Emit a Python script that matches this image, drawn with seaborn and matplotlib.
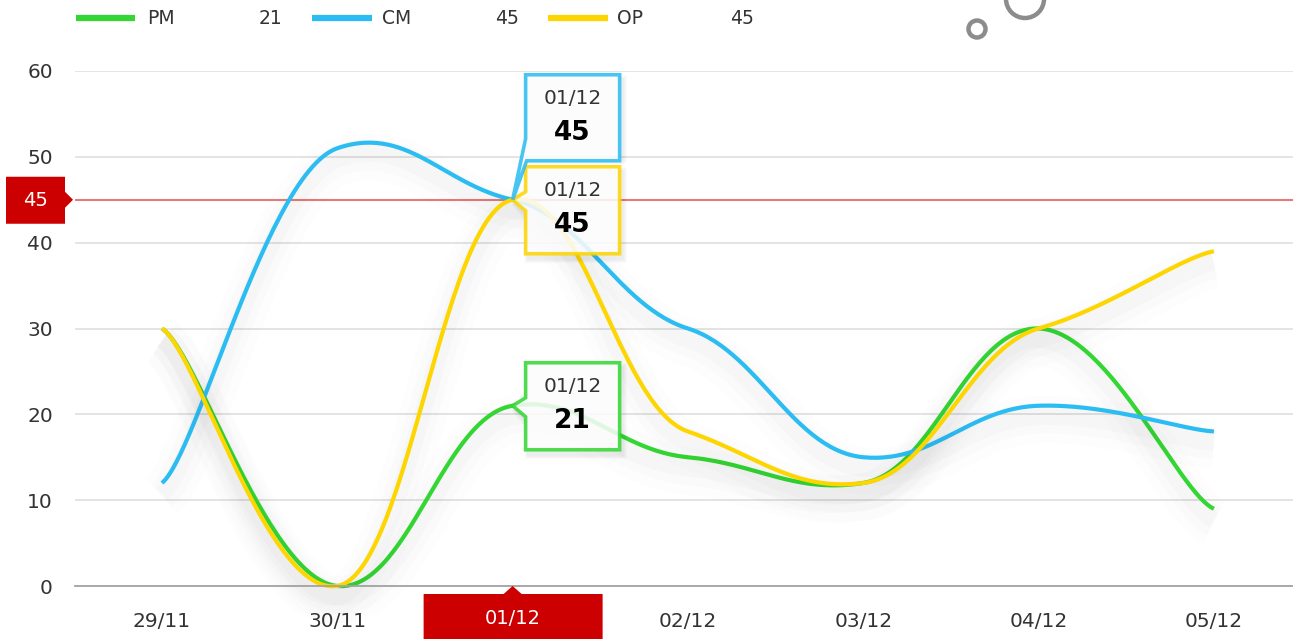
import numpy as np
import pandas as pd
import matplotlib
matplotlib.use("Agg")
import matplotlib.pyplot as plt
import matplotlib.patheffects as pe
from matplotlib.patches import Polygon, Circle
import seaborn as sns

# ── Data ────────────────────────────────────────────────
DATES = ["29/11", "30/11", "01/12", "02/12", "03/12", "04/12", "05/12"]
PM = [30, 0, 21, 15, 12, 30, 9]
CM = [12, 51, 45, 30, 15, 21, 18]
OP = [30, 0, 45, 18, 12, 30, 39]
SERIES = {"PM": PM, "CM": CM, "OP": OP}
COLORS = {"PM": "#33d633", "CM": "#2bbcf2", "OP": "#fdd500"}
SELECTED = 2            # index of 01/12
LIMIT = 45              # red reference line

W, H = 1293, 639
RED = "#cc0000"
TX, TY = 0.2, 0.085     # smoothing (x / y tension of the bezier)


def smooth(ys, n=60):
    """Tension bezier through the points (x = category index)."""
    pts = np.array([[i, v] for i, v in enumerate(ys)], dtype=float)
    k = np.array([TX, TY])
    t = np.linspace(0, 1, n)[:, None]
    out = []
    for i in range(len(pts) - 1):
        p0 = pts[max(i - 1, 0)]
        p1, p2 = pts[i], pts[i + 1]
        p3 = pts[min(i + 2, len(pts) - 1)]
        c1 = p1 + (p2 - p0) * k
        c2 = p2 - (p3 - p1) * k
        seg = ((1 - t) ** 3) * p1 + 3 * ((1 - t) ** 2) * t * c1 \
            + 3 * (1 - t) * t ** 2 * c2 + t ** 3 * p2
        out.append(seg if i == 0 else seg[1:])
    out = np.vstack(out)
    return out[:, 0], out[:, 1]


frames = []
for name, vals in SERIES.items():
    x, y = smooth(vals)
    frames.append(pd.DataFrame({"x": x, "y": y, "series": name}))
df = pd.concat(frames, ignore_index=True)

sns.set_theme(style="white")
plt.rcParams["font.family"] = ["DejaVu Sans"]

fig = plt.figure(figsize=(W / 100, H / 100), dpi=100)
fig.patch.set_facecolor("white")
ax = fig.add_axes([75 / W, (H - 586) / H, (W - 75) / W, (586 - 71) / H])
ax.set_facecolor("white")

sns.lineplot(data=df, x="x", y="y", hue="series", palette=COLORS,
             hue_order=["PM", "CM", "OP"], linewidth=3, legend=False,
             ax=ax, sort=False, estimator=None)
for ln in ax.lines:
    ln.set_clip_on(False)
    ln.set_solid_capstyle("butt")
    ln.set_path_effects([
        pe.SimpleLineShadow(offset=(0, -10), shadow_color="#000000", alpha=0.008, linewidth=34),
        pe.SimpleLineShadow(offset=(0, -9), shadow_color="#000000", alpha=0.011, linewidth=22),
        pe.SimpleLineShadow(offset=(0, -8), shadow_color="#000000", alpha=0.014, linewidth=12),
        pe.Normal()])

ax.set_xlim(-0.496, 6.451)
ax.set_ylim(0, 60)
ax.set_yticks(range(0, 61, 10))
ax.set_xticks(range(len(DATES)))
ax.set_xticklabels([d if i != SELECTED else "" for i, d in enumerate(DATES)])
ax.grid(axis="y", color="#dfdfdf", lw=1.2)
ax.grid(axis="x", visible=False)
for s in ["top", "right", "left"]:
    ax.spines[s].set_visible(False)
ax.spines["bottom"].set_color("#a3a3a3")
ax.spines["bottom"].set_linewidth(1.3)
ax.tick_params(axis="y", length=0, pad=16, labelsize=14.5, labelcolor="#333333")
ax.tick_params(axis="x", length=0, pad=19, labelsize=14.5, labelcolor="#333333")
ax.set_xlabel("")
ax.set_ylabel("")
ax.axhline(LIMIT, color="#e77b7b", lw=1.5, zorder=1.5)

# ── overlay in pixel coordinates ─────────────────────────
ov = fig.add_axes([0, 0, 1, 1], facecolor="none")
ov.set_xlim(0, W)
ov.set_ylim(H, 0)
ov.axis("off")


def to_px(x, y):
    dx, dy = ax.transData.transform((x, y))
    return dx, H - dy


# legend
lx = [(76, 135, 147, 282), (312, 372, 382, 519), (548, 608, 617, 754)]
for (a, b, tx, vx), name in zip(lx, SERIES):
    ov.plot([a, b], [18, 18], color=COLORS[name], lw=4.5, solid_capstyle="butt")
    ov.text(tx, 18, name, fontsize=13.5, color="#333333", va="center", ha="left")
    ov.text(vx, 18, str(SERIES[name][SELECTED]), fontsize=13.5, color="#333333",
            va="center", ha="right")

# decorative rings, top right
ov.add_patch(Circle((977, 29), 8.5, fill=False, ec="#8c8c8c", lw=3.2))
ov.add_patch(Circle((1025, -1), 19, fill=False, ec="#8c8c8c", lw=3.2))

# tooltips: (series, top offset, bottom offset) from the anchor point
TIPS = [("PM", -43, 44), ("OP", -33, 54), ("CM", -125, -39)]
for name, top, bot in TIPS:
    axp, ayp = to_px(SELECTED, SERIES[name][SELECTED])
    left, right = axp + 13, axp + 107
    y0, y1 = ayp + top, ayp + bot
    if name == "CM":
        pts = [(left, y0), (right, y0), (right, y1), (left + 1, y1),
               (axp, ayp), (left, y1 - 22)]
    else:
        pts = [(left, y0), (right, y0), (right, y1), (left, y1),
               (left, ayp + 11), (axp, ayp), (left, ayp - 8)]
    # soft shadow
    for grow, a in [(4, 0.03), (2, 0.04)]:
        ov.add_patch(Polygon([(px + 3 + grow * np.sign(px - axp - 60),
                               py + 5 + grow * np.sign(py - ayp)) for px, py in pts],
                             closed=True, fc="#000000", alpha=a, ec="none", zorder=4))
    ov.add_patch(Polygon(pts, closed=True, fc="white", alpha=0.86,
                         ec=COLORS[name], lw=2.6, zorder=5, joinstyle="miter"))
    cx = (left + right) / 2
    ov.text(cx, y0 + 24, DATES[SELECTED], ha="center", va="center",
            fontsize=14.5, color="#333333", zorder=6)
    ov.text(cx, y0 + 58, str(SERIES[name][SELECTED]), ha="center", va="center",
            fontsize=19, fontweight="bold", color="black", zorder=6)

# red value flag on the y-axis
_, ly = to_px(0, LIMIT)
ov.add_patch(Polygon([(6, ly - 23), (65, ly - 23), (65, ly - 8), (73, ly),
                      (65, ly + 8), (65, ly + 24), (6, ly + 24)],
                     closed=True, fc=RED, ec="none", zorder=6))
ov.text(36, ly + 1, str(LIMIT), color="white", fontsize=14, ha="center",
        va="center", zorder=7)

# red date flag on the x-axis
sx, sy = to_px(SELECTED, 0)
ov.add_patch(Polygon([(sx - 89, sy + 8), (sx - 9, sy + 8), (sx, sy), (sx + 9, sy + 8),
                      (sx + 90, sy + 8), (sx + 90, H + 5), (sx - 89, H + 5)],
                     closed=True, fc=RED, ec="none", zorder=6, clip_on=False))
ov.text(sx, sy + 32, DATES[SELECTED], color="white", fontsize=14,
        ha="center", va="center", zorder=7)

fig.savefig("out.png", dpi=100, facecolor="white")
